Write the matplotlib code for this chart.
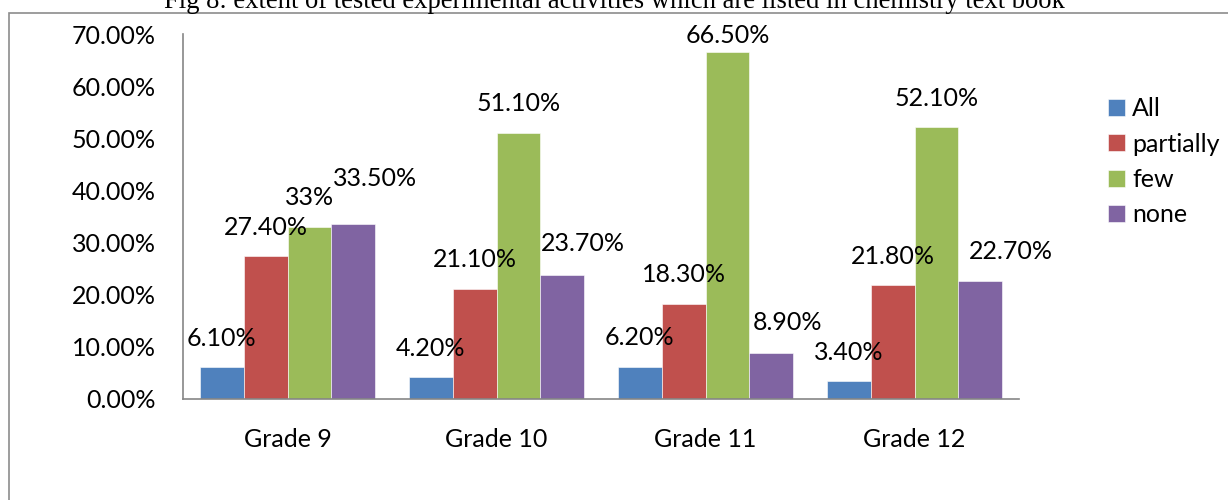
import matplotlib
matplotlib.use('Agg')
import matplotlib.pyplot as plt
import numpy as np
from matplotlib.patches import Rectangle

# ── 数据 ──────────────────────────────────────────────
grades = ['Grade 9', 'Grade 10', 'Grade 11', 'Grade 12']
series_names = ['All', 'partially', 'few', 'none']
all_vals = [6.1, 4.2, 6.2, 3.4]
partially_vals = [27.4, 21.1, 18.3, 21.8]
few_vals = [33, 51.1, 66.5, 52.1]
none_vals = [33.5, 23.7, 8.9, 22.7]
y_ticks = [0, 10, 20, 30, 40, 50, 60, 70]
title = 'Fig 8: extent of tested experimental activities which are listed in chemistry text book'

colors = ['#4F81BD', '#C0504D', '#9BBB59', '#8064A2']
# label offsets (px) relative to top-centre of each bar, as placed in the original
label_dx = [[0, 0, 0, 0], [0, 0, 0, 0], [0, 0, 0, 0], [22, 21, 16, 31]]
label_dy = [[29, 29, 29, 29], [29, 29, 29, 29], [29, 29, 17, 29], [46, 32, 30, 29]]

W, H = 1228, 500
font = 'Lato'
fs = 18

fig = plt.figure(figsize=(W / 100, H / 100), dpi=100)
ax = fig.add_axes([183 / W, 101 / H, 836 / W, 365 / H])

x = np.arange(len(grades))
bw = 0.21
all_series = [all_vals, partially_vals, few_vals, none_vals]
handles = []
for i, (vals, name) in enumerate(zip(all_series, series_names)):
    pos = x + (i - 1.5) * bw
    bars = ax.bar(pos, vals, width=bw, color=colors[i], edgecolor='white',
                  linewidth=0.4, label=name)
    handles.append(bars)
    for j, (p, v) in enumerate(zip(pos, vals)):
        txt = f'{v:.2f}%' if v != int(v) else f'{int(v)}%'
        ax.annotate(txt, (p, v), xytext=(label_dx[i][j], label_dy[i][j]),
                    textcoords='offset pixels', ha='center', va='center',
                    family=font, fontsize=fs, annotation_clip=False)

ax.set_xlim(-0.5, len(grades) - 0.5)
ax.set_ylim(0, 70)
ax.set_yticks(y_ticks)
ax.set_yticklabels([f'{t:.2f}%' for t in y_ticks], family=font, fontsize=fs)
ax.set_xticks(x)
ax.set_xticklabels(grades, family=font, fontsize=fs)
ax.tick_params(axis='both', length=0)
ax.tick_params(axis='y', pad=19.5)
ax.tick_params(axis='x', pad=21)
for side in ['top', 'right']:
    ax.spines[side].set_visible(False)
for side in ['left', 'bottom']:
    ax.spines[side].set_color('#868686')
    ax.spines[side].set_linewidth(1.2)

# outer frame (cropped)
fig.add_artist(Rectangle((9 / W, -0.1), 1.2, 1 - 13 / H + 0.1, transform=fig.transFigure,
                         fill=False, edgecolor='#8c8c8c', linewidth=1.2))
fig.text(0.5, 1 - 8 / H, title, ha='center', va='baseline',
         family='Liberation Serif', fontsize=19.2)

fig.legend(handles=handles, loc='upper left', bbox_to_anchor=(1108 / W, 1 - 97 / H),
           frameon=False, prop={'family': font, 'size': fs}, borderpad=0,
           borderaxespad=0, handlelength=0.67, handleheight=0.67,
           handletextpad=0.3, labelspacing=0.5)

fig.savefig('out.png', dpi=100)
